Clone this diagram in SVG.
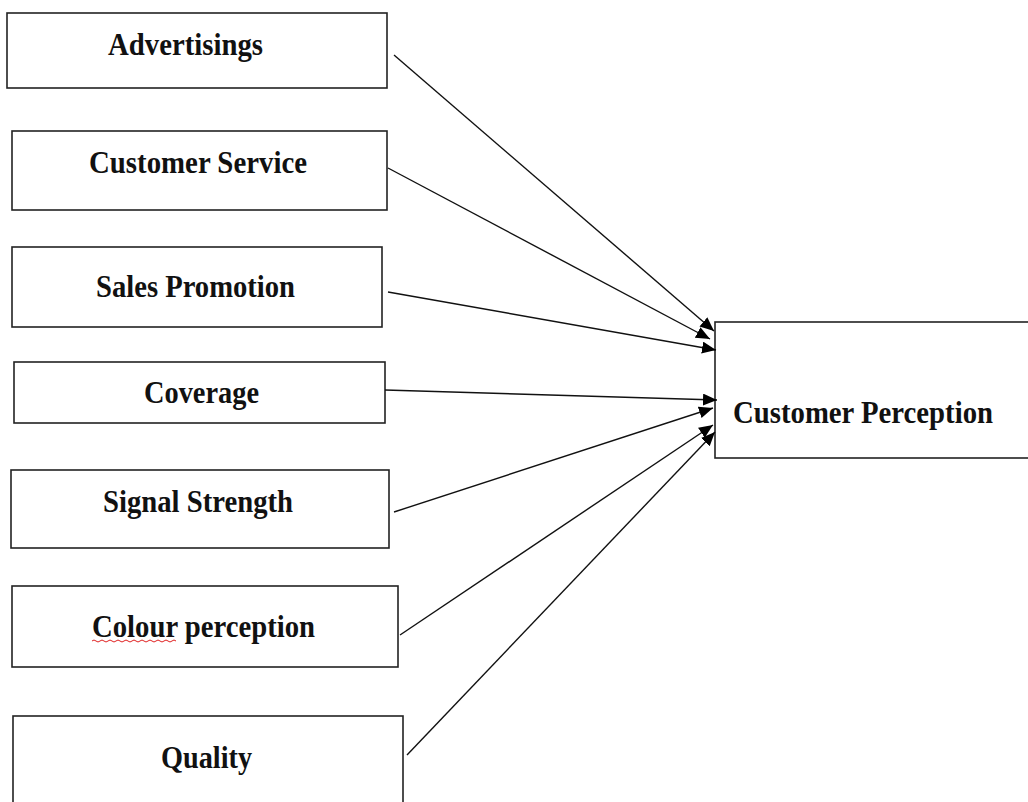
<svg xmlns="http://www.w3.org/2000/svg" width="1028" height="802" viewBox="0 0 1028 802">
<style>
.box{fill:#fff;stroke:#222;stroke-width:1.6}
.lbl{font-family:"Liberation Serif","Times New Roman",serif;font-weight:bold;font-size:32px;fill:#111}
.conn{stroke:#111;stroke-width:1.4;fill:none;marker-end:url(#ah)}
</style>
<defs>
<marker id="ah" markerUnits="userSpaceOnUse" markerWidth="16" markerHeight="14" refX="14" refY="6" orient="auto">
<path d="M0,0 L14,6 L0,12 Z" fill="#000"/>
</marker>
</defs>
<rect width="1028" height="802" fill="#fff"/>
<g id="n-advertisings"><rect class="box" x="7" y="13" width="380" height="75"/><text class="lbl" x="108" y="55" textLength="155" lengthAdjust="spacingAndGlyphs">Advertisings</text></g>
<g id="n-customer-service"><rect class="box" x="12" y="131" width="375" height="79"/><text class="lbl" x="89" y="173" textLength="218" lengthAdjust="spacingAndGlyphs">Customer Service</text></g>
<g id="n-sales-promotion"><rect class="box" x="12" y="247" width="370" height="80"/><text class="lbl" x="96" y="297" textLength="199" lengthAdjust="spacingAndGlyphs">Sales Promotion</text></g>
<g id="n-coverage"><rect class="box" x="14" y="362" width="371" height="61"/><text class="lbl" x="144" y="403" textLength="115" lengthAdjust="spacingAndGlyphs">Coverage</text></g>
<g id="n-signal-strength"><rect class="box" x="11" y="470" width="378" height="78"/><text class="lbl" x="103" y="512" textLength="190" lengthAdjust="spacingAndGlyphs">Signal Strength</text></g>
<g id="n-colour-perception"><rect class="box" x="12" y="586" width="386" height="81"/><text class="lbl" x="92" y="637" textLength="223" lengthAdjust="spacingAndGlyphs">Colour perception</text><path d="M92,641 q2,-2 4,0 t4,0 t4,0 t4,0 t4,0 t4,0 t4,0 t4,0 t4,0 t4,0 t4,0 t4,0 t4,0 t4,0 t4,0 t4,0 t4,0 t4,0 t4,0 t4,0 t4,0" fill="none" stroke="#e02020" stroke-width="1"/></g>
<g id="n-quality"><rect class="box" x="13" y="716" width="390" height="100"/><text class="lbl" x="161" y="768" textLength="91" lengthAdjust="spacingAndGlyphs">Quality</text></g>
<g id="n-customer-perception"><rect class="box" x="715" y="322" width="330" height="136"/><text class="lbl" x="733" y="423" textLength="260" lengthAdjust="spacingAndGlyphs">Customer Perception</text></g>
<g id="connectors">
<line class="conn" x1="394" y1="55" x2="714" y2="331"/>
<line class="conn" x1="388" y1="168" x2="710" y2="339"/>
<line class="conn" x1="388" y1="292" x2="716" y2="350"/>
<line class="conn" x1="385" y1="390" x2="717" y2="400"/>
<line class="conn" x1="394" y1="512" x2="713" y2="408"/>
<line class="conn" x1="400" y1="635" x2="713" y2="425"/>
<line class="conn" x1="407" y1="755" x2="715" y2="432"/>
</g>
</svg>
